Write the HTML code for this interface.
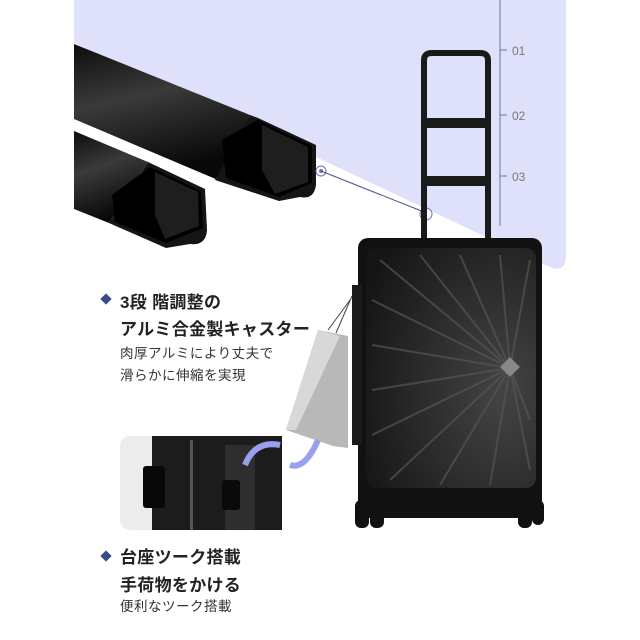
<!DOCTYPE html>
<html><head><meta charset="utf-8"><style>
body{margin:0;width:640px;height:640px;background:#fff;overflow:hidden;font-family:"Liberation Sans","Noto Sans CJK JP",sans-serif;position:relative}
.t{position:absolute;color:#222;white-space:nowrap}
.h{font-size:17px;font-weight:bold;letter-spacing:0.3px}
.s{font-size:13.5px;color:#333;letter-spacing:0.5px}
.d{position:absolute;width:8px;height:8px;background:#3a4a8a;transform:rotate(45deg)}
</style></head><body>
<svg width="640" height="640" style="position:absolute;left:0;top:0">
<defs>
<linearGradient id="bar" x1="0" y1="0" x2="0.3" y2="1"><stop offset="0" stop-color="#0d0d0d"/><stop offset="0.45" stop-color="#3a3a3a"/><stop offset="1" stop-color="#080808"/></linearGradient>
<radialGradient id="sun" cx="0.8" cy="0.6" r="0.9"><stop offset="0" stop-color="#444"/><stop offset="1" stop-color="#151515"/></radialGradient>
</defs>
<path d="M74 0H566V255Q566 272 552 268L74 43Z" fill="#dfe1fb"/>
<line x1="500" y1="0" x2="500" y2="226" stroke="#6b74a8" stroke-width="1"/>
<line x1="500" y1="50" x2="507" y2="50" stroke="#6b74a8"/><line x1="500" y1="115" x2="507" y2="115" stroke="#6b74a8"/><line x1="500" y1="176" x2="507" y2="176" stroke="#6b74a8"/>
<text x="512" y="55" font-size="12" fill="#777">01</text><text x="512" y="120" font-size="12" fill="#777">02</text><text x="512" y="181" font-size="12" fill="#777">03</text>
<!-- rods -->
<path d="M74 44L250 115L218 180L74 119Z" fill="url(#bar)"/>
<path d="M250 115L258 118L316 145L316 185Q314 200 300 197L279 201L215 180Z" fill="#151515"/>
<path d="M222 140L258 120L312 146L312 183L279 197L226 178Z" fill="#000"/>
<path d="M262 125L308 147L308 182L275 194L262 170Z" fill="#1e1e1e"/>
<path d="M74 131L148 162L109 223L74 209Z" fill="url(#bar)"/>
<path d="M148 162L205 189L207 230Q206 246 190 244L166 248L109 223Z" fill="#151515"/>
<path d="M112 195L150 167L201 191L203 228L166 243L115 222Z" fill="#000"/>
<path d="M155 172L198 192L199 226L165 239L155 215Z" fill="#1e1e1e"/>
<circle cx="321" cy="171" r="5" fill="none" stroke="#6b74a8"/><circle cx="321" cy="171" r="2" fill="#6b74a8"/>
<line x1="321" y1="171" x2="424" y2="212" stroke="#4a5080"/>
<circle cx="426" cy="214" r="6" fill="none" stroke="#6b74a8"/>
<!-- handle -->
<path d="M424 238V60Q424 53 432 53H480Q488 53 488 60V238" fill="none" stroke="#1a1a1a" stroke-width="6"/>
<rect x="421" y="118" width="70" height="10" rx="4" fill="#1a1a1a"/>
<rect x="421" y="176" width="70" height="10" rx="4" fill="#1a1a1a"/>
<!-- body -->
<rect x="358" y="238" width="184" height="280" rx="10" fill="#111"/>
<rect x="366" y="248" width="170" height="240" rx="10" fill="url(#sun)"/>
<g stroke="#555" stroke-width="2" opacity="0.7">
<line x1="510" y1="368" x2="380" y2="260"/><line x1="510" y1="368" x2="420" y2="255"/><line x1="510" y1="368" x2="460" y2="255"/><line x1="510" y1="368" x2="500" y2="255"/><line x1="510" y1="368" x2="530" y2="260"/>
<line x1="510" y1="368" x2="372" y2="300"/><line x1="510" y1="368" x2="372" y2="345"/><line x1="510" y1="368" x2="372" y2="390"/><line x1="510" y1="368" x2="372" y2="435"/><line x1="510" y1="368" x2="390" y2="480"/><line x1="510" y1="368" x2="440" y2="485"/><line x1="510" y1="368" x2="490" y2="485"/><line x1="510" y1="368" x2="530" y2="470"/><line x1="510" y1="368" x2="530" y2="420"/>
</g>
<rect x="503" y="360" width="14" height="14" fill="#888" transform="rotate(45 510 367)"/>
<rect x="352" y="285" width="10" height="160" fill="#1a1a1a"/>
<!-- wheels -->
<rect x="355" y="500" width="14" height="28" rx="6" fill="#111"/><rect x="370" y="500" width="14" height="28" rx="6" fill="#111"/>
<rect x="518" y="500" width="14" height="28" rx="6" fill="#111"/><rect x="532" y="500" width="12" height="25" rx="6" fill="#111"/>
<!-- bag -->
<path d="M318 330L348 336L348 448L333 446L286 430Z" fill="#b8b8b8"/>
<path d="M318 330L340 336L296 430L286 430Z" fill="#d8d8d8"/>
<path d="M328 330L350 300M336 333L352 296" stroke="#444" fill="none"/>
<!-- inset -->
<rect x="120" y="436" width="162" height="94" rx="10" fill="#ececec"/>
<rect x="152" y="436" width="130" height="94" fill="#1c1c1c"/>
<rect x="190" y="440" width="3" height="90" fill="#555"/><rect x="225" y="445" width="30" height="85" fill="#2e2e2e"/>
<rect x="143" y="466" width="22" height="42" rx="3" fill="#080808"/>
<rect x="222" y="480" width="18" height="30" rx="3" fill="#0a0a0a"/>
<path d="M280 445Q255 440 245 465" stroke="#9aa0ee" stroke-width="6" fill="none"/>
<path d="M290 465Q305 470 318 440" stroke="#9aa0ee" stroke-width="6" fill="none"/>
</svg>
<div class="d" style="left:102px;top:295px"></div>
<div class="t h" style="left:120px;top:288px">3段 階調整の</div>
<div class="t h" style="left:120px;top:315px">アルミ合金製キャスター</div>
<div class="t s" style="left:120px;top:342px">肉厚アルミにより丈夫で</div>
<div class="t s" style="left:120px;top:364px">滑らかに伸縮を実現</div>
<div class="d" style="left:102px;top:552px"></div>
<div class="t h" style="left:120px;top:543px">台座ツーク搭載</div>
<div class="t h" style="left:120px;top:571px">手荷物をかける</div>
<div class="t s" style="left:120px;top:595px">便利なツーク搭載</div>
</body></html>
